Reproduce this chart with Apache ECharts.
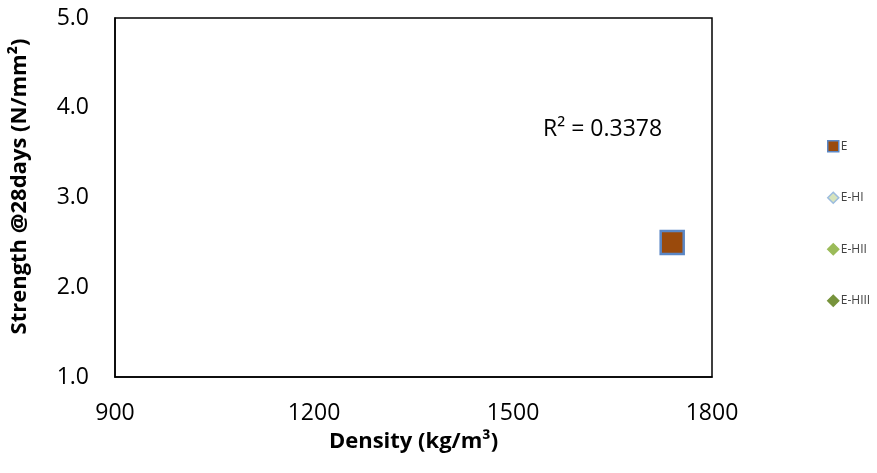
<!DOCTYPE html>
<html>
<head>
<meta charset="utf-8">
<script src="https://cdn.jsdelivr.net/npm/echarts@6/dist/echarts.min.js"></script>
<style>
  html, body { margin: 0; padding: 0; background: #fff; }
  #chart { width: 877px; height: 473px; }
</style>
</head>
<body>
<div id="chart"></div>
<script>
// Density vs 28-day strength for the E mix and its variants
const seriesNames = ['E', 'E-HI', 'E-HII', 'E-HIII'];
const densityE = [1740];
const strengthE = [2.5];
const densityEHI = [];
const strengthEHI = [];
const densityEHII = [];
const strengthEHII = [];
const densityEHIII = [];
const strengthEHIII = [];
const xTicks = [900, 1200, 1500, 1800];
const yTicks = [1.0, 2.0, 3.0, 4.0, 5.0];
const rSquaredText = 'R² = 0.3378';

const pairs = (xs, ys) => xs.map((x, i) => [x, ys[i]]);
const seriesData = {
  'E': pairs(densityE, strengthE),
  'E-HI': pairs(densityEHI, strengthEHI),
  'E-HII': pairs(densityEHII, strengthEHII),
  'E-HIII': pairs(densityEHIII, strengthEHIII)
};

const styles = {
  'E':      { symbol: 'rect',    size: 23, color: '#9a4a0c', border: '#5b87c5' },
  'E-HI':   { symbol: 'diamond', size: 10, color: '#d7e4bd', border: '#9cbcdf' },
  'E-HII':  { symbol: 'diamond', size: 10, color: '#9bbb59', border: '#9bbb59' },
  'E-HIII': { symbol: 'diamond', size: 10, color: '#77933c', border: '#77933c' }
};

const font = '"Open Sans", "Noto Sans", sans-serif';

const series = seriesNames.map(name => ({
  name,
  type: 'scatter',
  symbol: styles[name].symbol,
  symbolSize: styles[name].size,
  itemStyle: {
    color: styles[name].color,
    borderColor: styles[name].border,
    borderWidth: 2.5,
    opacity: 1
  },
  data: seriesData[name]
}));

const chart = echarts.init(document.getElementById('chart'));
chart.setOption({
  animation: false,
  backgroundColor: '#ffffff',
  grid: { left: 115, right: 165, top: 18, bottom: 96, containLabel: false },
  xAxis: {
    type: 'value',
    min: xTicks[0],
    max: xTicks[xTicks.length - 1],
    interval: 300,
    name: 'Density (kg/m³)',
    nameLocation: 'middle',
    nameGap: 54,
    nameTextStyle: { fontFamily: font, fontWeight: 'bold', fontSize: 22, color: '#000' },
    axisLine: { show: true, lineStyle: { color: '#000', width: 1.5 } },
    axisTick: { show: false },
    splitLine: { show: false },
    axisLabel: {
      fontFamily: font, fontSize: 23, color: '#000', margin: 25,
      formatter: v => String(v)
    }
  },
  yAxis: {
    type: 'value',
    min: yTicks[0],
    max: yTicks[yTicks.length - 1],
    interval: 1,
    name: 'Strength @28days (N/mm²)',
    nameLocation: 'middle',
    nameGap: 84,
    nameTextStyle: {
      fontFamily: font, fontWeight: 'bold', fontSize: 22, color: '#000',
      padding: [0, 0, 0, 22]
    },
    axisLine: { show: true, lineStyle: { color: '#000', width: 1.5 } },
    axisTick: { show: false },
    splitLine: { show: false },
    axisLabel: {
      fontFamily: font, fontSize: 23, color: '#000', margin: 26,
      formatter: v => v.toFixed(1)
    }
  },
  legend: {
    orient: 'vertical',
    left: 822,
    top: 135,
    itemGap: 39,
    itemWidth: 11,
    itemHeight: 11,
    textStyle: { fontFamily: font, fontSize: 12, lineHeight: 12, color: '#404040', padding: [0, 0, 0, -3] },
    data: seriesNames.map(name => ({
      name,
      icon: styles[name].symbol,
      itemStyle: { color: styles[name].color, borderColor: styles[name].border, borderWidth: 1.5, opacity: 1 }
    }))
  },
  series
});

// R² annotation and the closed frame around the plot area
const gridRect = chart.getModel().getComponent('grid').coordinateSystem.getRect();
chart.setOption({
  graphic: [{
    type: 'text',
    left: 543,
    top: 118,
    style: { text: rSquaredText, font: '23px ' + font, fill: '#000' }
  }, {
    type: 'rect',
    shape: { x: gridRect.x, y: gridRect.y, width: gridRect.width, height: gridRect.height },
    style: { fill: 'none', stroke: '#000', lineWidth: 1.5 },
    silent: true,
    z: 0
  }]
});
</script>
</body>
</html>
